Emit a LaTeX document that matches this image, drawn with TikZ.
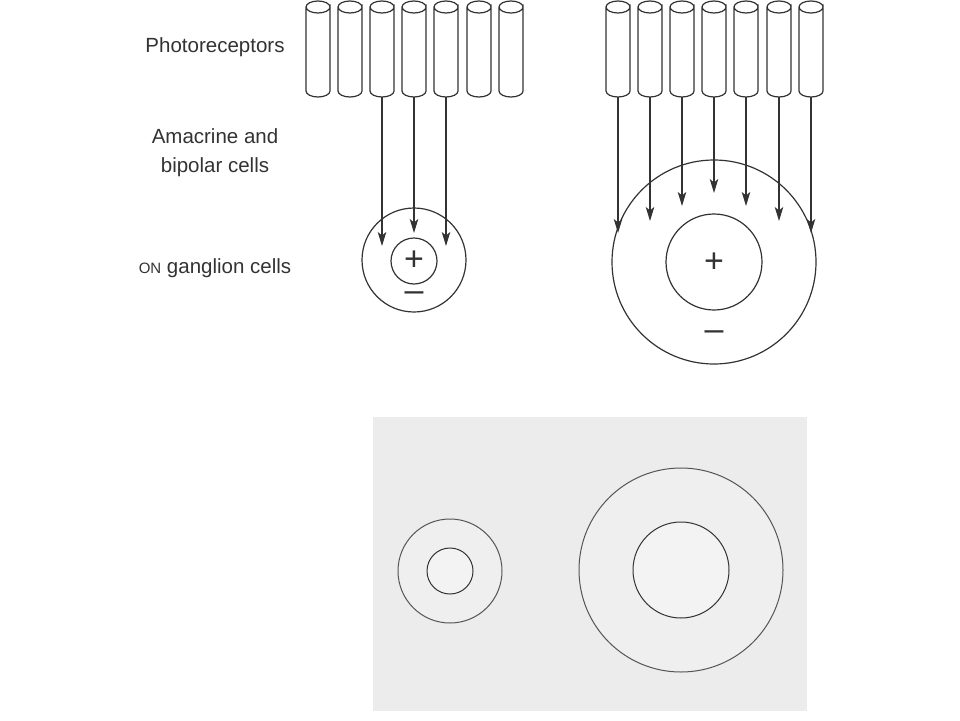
\documentclass[tikz,border=0pt]{standalone}
\usepackage{fontspec}
\setmainfont{Liberation Sans}
\usetikzlibrary{arrows.meta}
\definecolor{ink}{HTML}{333333}
\definecolor{panel}{HTML}{ECECEC}
\definecolor{ring}{HTML}{EFEFEF}
\definecolor{core}{HTML}{F3F3F3}
\definecolor{pale}{HTML}{555555}
\tikzset{
  rod/.style={draw=ink, line width=1.2pt, fill=white},
  wire/.style={draw=ink, line width=1.2pt, -{Stealth[length=14pt,width=8.5pt,inset=3.5pt]}},
  cell/.style={draw=ink, line width=1.2pt},
  lbl/.style={font=\fontsize{20.5}{29}\selectfont, text=ink, align=center, inner sep=0pt},
  sign/.style={font=\fontsize{34}{34}\selectfont, text=ink, inner sep=0pt},
  sketch/.style={draw=pale, line width=1pt}
}
\newcommand{\rodat}[2]{%
  \draw[rod] (#1-12,7) -- (#1-12,91) arc[start angle=180,end angle=0,x radius=12,y radius=6] -- (#1+12,7) arc[start angle=0,end angle=360,x radius=12,y radius=6];
  \coordinate (#2) at (#1,97);
}
\begin{document}
\begin{tikzpicture}[x=1pt,y=-1pt]
\useasboundingbox (0,0) rectangle (960,720);
\fill[white] (0,0) rectangle (960,720);
% labels
\node[lbl] (photo) at (215,47) {Photoreceptors};
\node[lbl] (amac) at (215,153) {Amacrine and\\bipolar cells};
\node[lbl] (gang) at (215,268) {{\fontsize{15}{15}\selectfont ON} ganglion cells};
% left group of rods
\rodat{318}{la}
\rodat{350}{lb}
\rodat{382}{lc}
\rodat{414}{ld}
\rodat{446}{le}
\rodat{479}{lf}
\rodat{511}{lg}
% right group of rods
\rodat{618}{ra}
\rodat{650}{rb}
\rodat{682}{rc}
\rodat{714}{rd}
\rodat{746}{re}
\rodat{779}{rf}
\rodat{811}{rg}
% small receptive field
\draw[cell] (414,260) circle[radius=52];
\draw[cell] (414,261) circle[radius=23];
\node[sign] (sp) at (414,261) {+};
\node[sign] (sm) at (414,297) {\textendash};
\coordinate (tlc) at (382,246);
\coordinate (tld) at (414,233);
\coordinate (tle) at (446,246);
\draw[wire] (lc) -- (tlc);
\draw[wire] (ld) -- (tld);
\draw[wire] (le) -- (tle);
% large receptive field
\draw[cell] (714,262) circle[radius=102];
\draw[cell] (714,262) circle[radius=48];
\node[sign] (lp) at (714,263) {+};
\node[sign] (lm) at (714,336) {\textendash};
\coordinate (tra) at (618,233);
\coordinate (trb) at (650,221);
\coordinate (trc) at (682,206);
\coordinate (trd) at (714,193);
\coordinate (tre) at (746,206);
\coordinate (trf) at (779,221);
\coordinate (trg) at (811,233);
\draw[wire] (ra) -- (tra);
\draw[wire] (rb) -- (trb);
\draw[wire] (rc) -- (trc);
\draw[wire] (rd) -- (trd);
\draw[wire] (re) -- (tre);
\draw[wire] (rf) -- (trf);
\draw[wire] (rg) -- (trg);
% bottom panel
\fill[panel] (373,417) rectangle (807,711);
\filldraw[sketch, fill=ring] (450,571) circle[radius=52];
\filldraw[sketch, fill=core, draw=ink] (450,571) circle[radius=23];
\filldraw[sketch, fill=ring] (681,570) circle[radius=102];
\filldraw[sketch, fill=core, draw=ink] (681,570) circle[radius=48];
\end{tikzpicture}
\end{document}
